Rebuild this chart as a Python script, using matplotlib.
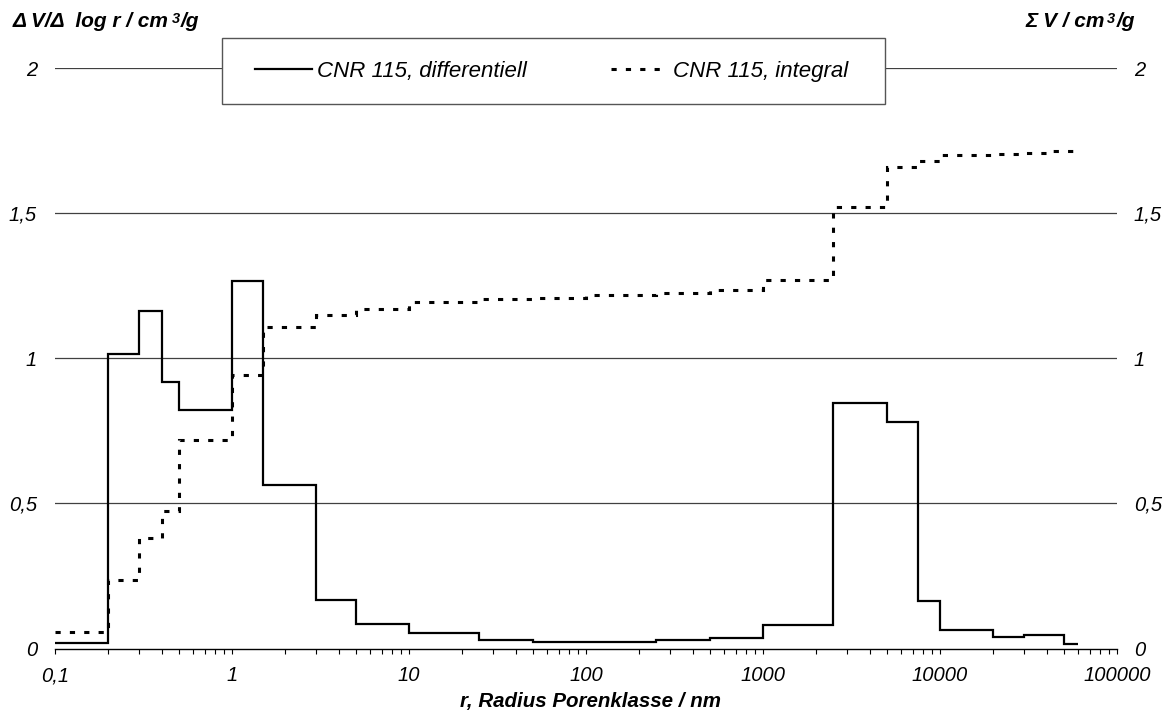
import numpy as np
import matplotlib
matplotlib.use("Agg")
import matplotlib.pyplot as plt
from matplotlib.patches import Rectangle
from matplotlib.lines import Line2D
from matplotlib.ticker import LogLocator, NullFormatter

plt.rcParams['font.family'] = ['Liberation Sans', 'DejaVu Sans']

# pore classes (radius, nm) - bin edges
edges = [0.1, 0.2, 0.3, 0.4, 0.5, 1, 1.5, 3, 5, 10, 25, 50, 100, 250, 500,
         1000, 2500, 5000, 7500, 10000, 20000, 30000, 40000, 50000, 60000]
# dV/dlog r, cm3/g
diff_vals = [0.018, 1.015, 1.164, 0.917, 0.823, 1.267, 0.565, 0.166, 0.084,
             0.054, 0.030, 0.021, 0.023, 0.030, 0.037, 0.082, 0.846, 0.779,
             0.163, 0.063, 0.038, 0.045, 0.045, 0.014]
# cumulative V, cm3/g
integral_vals = [0.057, 0.237, 0.381, 0.473, 0.719, 0.941, 1.109, 1.149, 1.170,
                 1.194, 1.204, 1.207, 1.218, 1.225, 1.236, 1.271, 1.522, 1.659,
                 1.678, 1.699, 1.702, 1.708, 1.714, 1.714]

series_labels = ["CNR 115, differentiell", "CNR 115, integral"]
y_ticks = [0, 0.5, 1, 1.5, 2]
y_tick_labels = ["0", "0,5", "1", "1,5", "2"]
x_ticks = [0.1, 1, 10, 100, 1000, 10000, 100000]
x_tick_labels = ["0,1", "1", "10", "100", "1000", "10000", "100000"]

W, H = 1168, 713
fig = plt.figure(figsize=(W / 100, H / 100), dpi=100)
ax = fig.add_axes([55 / W, 1 - 648.5 / H, (1117 - 55) / W, (648.5 - 68) / H])
ax2 = ax.twinx()

dash = (0, (1.7, 3.0))
ax.stairs(diff_vals, edges, baseline=None, color='black', lw=1.6, zorder=3)
ax2.stairs(integral_vals, edges, baseline=None, color='black', lw=2.2,
           linestyle=dash, zorder=3)

for a in (ax, ax2):
    a.set_xscale('log')
    a.set_xlim(0.1, 100000)
    a.set_ylim(0, 2)
    for s in a.spines.values():
        s.set_visible(False)
ax.spines['bottom'].set_visible(True)
ax.spines['bottom'].set_linewidth(1.0)

# gridlines
for yv in y_ticks[1:]:
    ax.axhline(yv, color='#404040', lw=0.9, zorder=1)

tick_font = dict(fontstyle='italic', fontsize=14.5)
ax.set_xticks(x_ticks, labels=x_tick_labels, **tick_font)
ax.xaxis.set_minor_locator(LogLocator(base=10, subs=np.arange(2, 10), numticks=50))
ax.xaxis.set_minor_formatter(NullFormatter())
ax.tick_params(axis='x', which='both', direction='out', length=3.6, width=0.8, pad=9)

ax.set_yticks(y_ticks, labels=y_tick_labels, **tick_font)
ax.tick_params(axis='y', length=0, pad=13)
ax2.set_yticks(y_ticks, labels=y_tick_labels, **tick_font)
ax2.tick_params(axis='y', length=0, pad=12)

bold = dict(fontweight='bold', fontstyle='italic')
fig.text(590 / W, 1 - 702 / H, "r, Radius Porenklasse / nm", ha='center', va='center',
         fontsize=14.8, **bold)

# axis titles with superscript
def unit_label(x, text):
    t1 = fig.text(x / W, 1 - 27 / H, text, ha='left', va='baseline', fontsize=15, **bold)
    sup = ax.annotate("3", xy=(1, 1), xycoords=t1, xytext=(2, 0), textcoords='offset points',
                      ha='left', va='top', fontsize=10.5, **bold)
    ax.annotate("/g", xy=(1, 0), xycoords=(sup, t1), xytext=(1, 0), textcoords='offset points',
                ha='left', va='bottom', fontsize=15, **bold)

unit_label(13, "\u0394 V/\u0394  log r / cm")
unit_label(1025, "\u03a3 V / cm")

# legend
fig.add_artist(Rectangle((222 / W, 1 - 104 / H), (885 - 222) / W, 66 / H,
                         transform=fig.transFigure, facecolor='white',
                         edgecolor='#555555', lw=1.0, zorder=3))
handles = [Line2D([], [], color='black', lw=1.6),
           Line2D([], [], color='black', lw=2.2, linestyle=dash)]
fig.legend(handles, series_labels, loc='center', mode='expand', ncol=2,
           bbox_to_anchor=(255 / W, 1 - 104 / H, (848 - 255) / W, 66 / H),
           bbox_transform=fig.transFigure, borderaxespad=0, borderpad=0,
           frameon=False, handlelength=2.55, handletextpad=0.25,
           prop={'style': 'italic', 'size': 16})

fig.savefig("out.png", dpi=100)
